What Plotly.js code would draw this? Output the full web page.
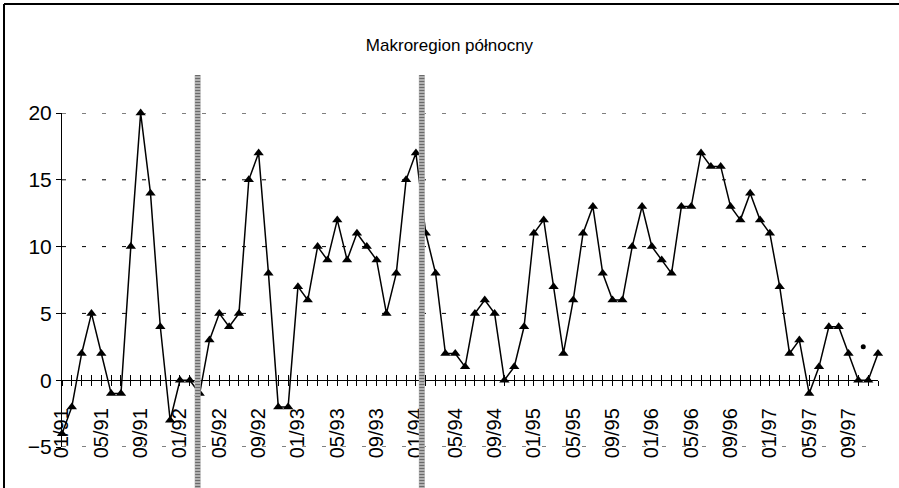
<!DOCTYPE html>
<html>
<head>
<meta charset="utf-8">
<script src="https://cdn.plot.ly/plotly-3.0.1.min.js"></script>
<style>html,body{margin:0;padding:0;background:#fff;}#chart{width:899px;height:488px;}</style>
</head>
<body>
<div id="chart"></div>
<script>
// Monthly values 01/91 .. 12/97
const values1991 = [-4, -2, 2, 5, 2, -1, -1, 10, 20, 14, 4, -3];
const values1992 = [0, 0, -1, 3, 5, 4, 5, 15, 17, 8, -2, -2];
const values1993 = [7, 6, 10, 9, 12, 9, 11, 10, 9, 5, 8, 15];
const values1994 = [17, 11, 8, 2, 2, 1, 5, 6, 5, 0, 1, 4];
const values1995 = [11, 12, 7, 2, 6, 11, 13, 8, 6, 6, 10, 13];
const values1996 = [10, 9, 8, 13, 13, 17, 16, 16, 13, 12, 14, 12];
const values1997 = [11, 7, 2, 3, -1, 1, 4, 4, 2, 0, 0, 2];
const years = ['91', '92', '93', '94', '95', '96', '97'];
const monthLabels = ['01','02','03','04','05','06','07','08','09','10','11','12'];
const yTicks = [-5, 0, 5, 10, 15, 20];
const gridLevels = [-5, 5, 10, 15, 20];
// stray dot visible near the end of the reference
const strayX = [81.5];
const strayY = [2.5];
// positions (month index) of the two hatched divider lines
const dividerPositions = [13.8, 36.6];

const values = [].concat(values1991, values1992, values1993, values1994, values1995, values1996, values1997);
const labels = [];
years.forEach(y => monthLabels.forEach(m => labels.push(m + '/' + y)));
const idx = labels.map((_, i) => i);
const tickText = labels.map((l, i) => (i % 4 === 0 ? l : ''));

const L = 62, R = 878, T = 113, B = 447;
const W = R - L, H = B - T;
const px = v => (v - L) / W;
const py = v => (B - v) / H;

const gridShapes = gridLevels.map(g => ({
  type: 'line', xref: 'paper', yref: 'y', x0: 0, x1: 1, y0: g, y1: g, layer: 'below',
  line: {color: '#000', width: 1, dash: '4px,16px'}
}));

const shapes = gridShapes.concat(dividerPositions.map(p => ({
  type: 'line', xref: 'x', yref: 'paper', x0: p, x1: p, y0: py(75), y1: py(488),
  line: {color: '#b0b0b0', width: 6}
}))).concat(dividerPositions.map(p => ({
  type: 'line', xref: 'x', yref: 'paper', x0: p, x1: p, y0: py(75), y1: py(488),
  line: {color: '#6a6a6a', width: 5, dash: '1px,2px'}
}))).concat([
  {type: 'line', xref: 'paper', yref: 'paper', x0: px(4), x1: px(899), y0: py(4), y1: py(4),
   line: {color: '#000', width: 2}},
  {type: 'line', xref: 'paper', yref: 'paper', x0: px(4), x1: px(4), y0: py(4), y1: py(488),
   line: {color: '#000', width: 2}}
]);

const traces = [
  {x: idx, y: values, type: 'scatter', mode: 'lines+markers', cliponaxis: false,
   line: {color: '#000', width: 1.5},
   marker: {symbol: 'triangle-up', size: 9, color: '#000'}, hoverinfo: 'skip'},
  {x: strayX, y: strayY, type: 'scatter', mode: 'markers', cliponaxis: false,
   marker: {symbol: 'circle', size: 5, color: '#000'}, hoverinfo: 'skip'},
  {x: idx, y: values, xaxis: 'x2', type: 'scatter', mode: 'none', hoverinfo: 'skip'}
];

const tickFont = {family: 'Liberation Sans, Arial, sans-serif', size: 20, color: '#000'};

const layout = {
  width: 899, height: 488,
  margin: {l: L, r: 899 - R, t: T, b: 488 - B, pad: 0},
  paper_bgcolor: '#fff', plot_bgcolor: '#fff',
  showlegend: false,
  title: {text: 'Makroregion północny', x: 0.5, xref: 'container', xanchor: 'center',
          y: 1 - 45/488, yref: 'container', yanchor: 'middle',
          font: {family: 'Liberation Sans Narrow, Liberation Sans, Arial, sans-serif', size: 17, color: '#000'}},
  xaxis: {range: [0, 83], anchor: 'free', position: 0.2, showgrid: false, zeroline: false,
          showline: true, linecolor: '#000', linewidth: 1,
          tickvals: idx, ticktext: tickText, tickangle: -90, ticklabelstandoff: 14,
          ticks: 'outside', ticklen: 5, tickcolor: '#000', tickwidth: 1,
          tickfont: tickFont, automargin: false},
  xaxis2: {range: [0, 83], overlaying: 'x', anchor: 'free', position: 0.2, showgrid: false, zeroline: false,
           showline: false, tickvals: idx, showticklabels: false,
           ticks: 'inside', ticklen: 5, tickcolor: '#000', tickwidth: 1},
  yaxis: {range: [-5, 20], domain: [0, 1], tickvals: yTicks,
          showline: true, linecolor: '#000', linewidth: 1,
          ticks: 'outside', ticklen: 5, tickcolor: '#000',
          showgrid: false, zeroline: false,
          tickfont: {family: 'Liberation Sans, Arial, sans-serif', size: 21, color: '#000'},
          automargin: false},
  shapes: shapes
};

Plotly.newPlot('chart', traces, layout, {displayModeBar: false, staticPlot: true});
</script>
</body>
</html>
